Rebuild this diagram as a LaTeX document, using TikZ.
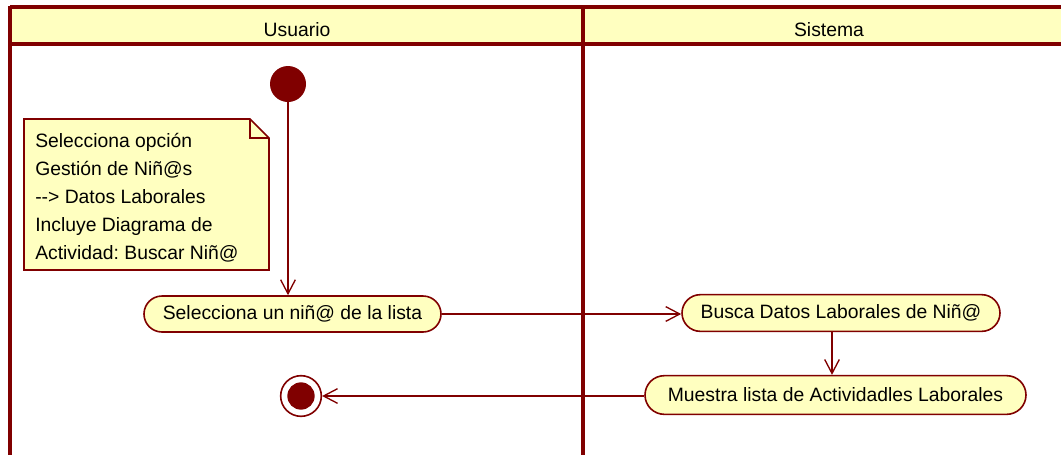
\documentclass[tikz,border=0pt]{standalone}
\usepackage{fontspec}
\setmainfont{Liberation Sans}
\usetikzlibrary{arrows.meta,shapes.misc}
\definecolor{dred}{HTML}{800000}
\definecolor{lyel}{HTML}{FFFFC0}
\frenchspacing
\tikzset{
  lane/.style={draw=dred, line width=2.4pt},
  action/.style={rounded rectangle, draw=dred, fill=lyel, line width=1.2pt, inner sep=0pt,
    font=\fontsize{14.5}{17}\selectfont},
  flow/.style={draw=dred, line width=1pt, -{Straight Barb[length=10.5pt,width=11pt,line width=1pt]}},
  hdr/.style={font=\fontsize{14.5}{17}\selectfont, anchor=base}
}
\begin{document}
\begin{tikzpicture}[x=0.75pt,y=-0.75pt]
\useasboundingbox (0,0) rectangle (1061,454);
\clip (0,0) rectangle (1061,454);
% header band
\fill[lyel] (10,7) rectangle (1080,44);
\draw[lane] (10,7) -- (1080,7);
\draw[lane] (10,44) -- (1080,44);
\draw[lane] (10,6) -- (10,460);
\draw[draw=dred, line width=3pt] (583,6) -- (583,460);
\node[hdr] (usuario) at (297,36) {Usuario};
\node[hdr] (sistema) at (829,36) {Sistema};
% note
\draw[draw=dred, fill=lyel, line width=1.2pt] (24,119) -- (250,119) -- (269,138) -- (269,270) -- (24,270) -- cycle;
\draw[draw=dred, line width=1.2pt] (250,119) -- (250,138) -- (269,138);
\node[anchor=base west, inner sep=0pt, align=left, font=\fontsize{14.5}{21}\selectfont] (note) at (35,259)
  {Selecciona opción\\Gestión de Niñ@s\\\mbox{-}\mbox{-}> Datos Laborales\\Incluye Diagrama de\\Actividad: Buscar Niñ@};
% start / end
\node[circle, fill=dred, minimum size=27pt, inner sep=0pt] (start) at (288,84) {};
\node[circle, draw=dred, line width=1.2pt, fill=white, minimum size=30.5pt, inner sep=0pt] (end) at (301,396) {};
\node[circle, fill=dred, minimum size=20.5pt, inner sep=0pt] (endin) at (301,396) {};
% actions
\node[action, minimum width=222.75pt, minimum height=27pt] (sel) at (292.5,314) {Selecciona un niñ@ de la lista};
\node[action, minimum width=238.5pt, minimum height=27.5pt] (busca) at (841,313) {Busca Datos Laborales de Niñ@};
\node[action, minimum width=285.75pt, minimum height=29pt] (muestra) at (835.5,395) {Muestra lista de Actividadles Laborales};
% flows
\draw[flow] (start) -- (start |- sel.north);
\draw[flow] (sel.east) -- (sel.east -| busca.west);
\draw[flow] ([xshift=-6.75pt]busca.south) -- ([xshift=-6.75pt]busca.south |- muestra.north);
\draw[flow] (end.east -| muestra.west) -- (end.east);
\end{tikzpicture}
\end{document}
